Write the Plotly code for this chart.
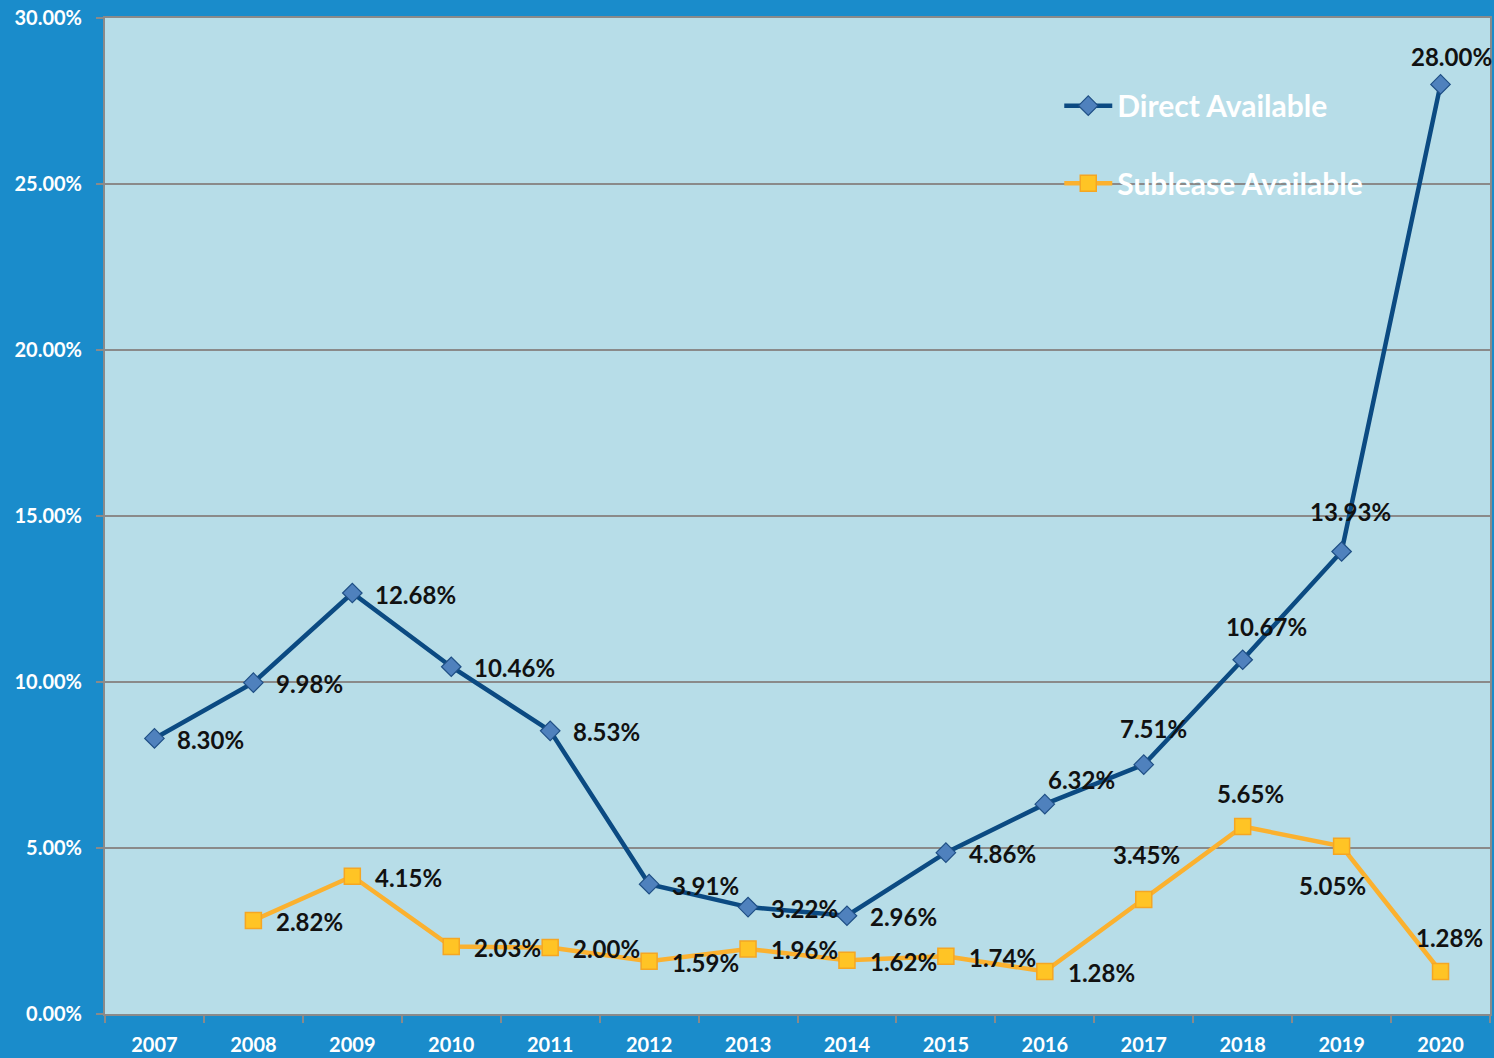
import plotly.graph_objects as go

years = ["2007", "2008", "2009", "2010", "2011", "2012", "2013",
         "2014", "2015", "2016", "2017", "2018", "2019", "2020"]
direct = [8.30, 9.98, 12.68, 10.46, 8.53, 3.91, 3.22, 2.96, 4.86, 6.32, 7.51, 10.67, 13.93, 28.00]
sublease = [None, 2.82, 4.15, 2.03, 2.00, 1.59, 1.96, 1.62, 1.74, 1.28, 3.45, 5.65, 5.05, 1.28]
y_ticks = [0, 5, 10, 15, 20, 25, 30]

# label placement (anchor, x shift px, y shift px) per point
direct_lbl = [("left", 21, -1)] * 9 + [("center", 37, 25), ("center", 10, 36), ("center", 24, 33),
                                       ("center", 9, 40), ("center", 11, 28)]
sub_lbl = [("left", 21, -1)] * 10 + [("center", 3, 45), ("center", 8, 33),
                                     ("center", -9, -39), ("center", 9, 34)]

FONT = "Lato"
LBL_FONT = dict(family=FONT, size=24, color="#111111", weight="bold")

def fmt(v):
    return f"{v:.2f}%"

fig = go.Figure()
fig.add_trace(go.Scatter(
    x=years, y=direct, name="Direct Available", mode="lines+markers",
    line=dict(color="#0b4a82", width=4.5),
    marker=dict(symbol="diamond", size=15, color="#4f81bd", line=dict(color="#1f4f85", width=1.2)),
    cliponaxis=False, legend="legend",
))
fig.add_trace(go.Scatter(
    x=years, y=sublease, name="Sublease Available", mode="lines+markers",
    line=dict(color="#fbb12f", width=4.5),
    marker=dict(symbol="square", size=16, color="#ffc425", line=dict(color="#f5a623", width=1.5)),
    cliponaxis=False, legend="legend2",
))

for series, lbls in ((direct, direct_lbl), (sublease, sub_lbl)):
    for i, (v, (anc, dx, dy)) in enumerate(zip(series, lbls)):
        if v is None:
            continue
        fig.add_annotation(x=i, y=v, xref="x", yref="y", text=fmt(v), showarrow=False,
                           xanchor=anc, yanchor="middle", xshift=dx, yshift=dy,
                           font=LBL_FONT)

legend_common = dict(
    bgcolor="rgba(0,0,0,0)", borderwidth=0, itemwidth=48,
    font=dict(family=FONT, size=30, color="white", weight="bold"),
    xanchor="left", yanchor="middle",
)

fig.update_layout(
    width=1494, height=1058,
    margin=dict(l=105, r=2, t=18, b=43),
    paper_bgcolor="#1a8ccb",
    plot_bgcolor="#b7dde8",
    showlegend=True,
    legend=dict(x=0.689, y=0.912, **legend_common),
    legend2=dict(x=0.689, y=0.834, **legend_common),
    xaxis=dict(
        type="category", range=[-0.5, 13.5], tickson="boundaries",
        showline=True, linecolor="#8a8a8a", linewidth=2, mirror=True,
        ticks="outside", ticklen=7, tickcolor="#8a8a8a", tickwidth=2,
        showgrid=False, ticklabelstandoff=12,
        tickfont=dict(family=FONT, size=20, color="white", weight="bold"),
    ),
    yaxis=dict(
        range=[0, 30], tickvals=y_ticks, ticktext=[f"{v:.2f}%" for v in y_ticks],
        showline=True, linecolor="#8a8a8a", linewidth=2, mirror=True,
        ticks="outside", ticklen=7, tickcolor="#8a8a8a", tickwidth=2,
        showgrid=True, gridcolor="#8a8a8a", gridwidth=1.5, zeroline=False,
        ticklabelstandoff=10,
        tickfont=dict(family=FONT, size=20, color="white", weight="bold"),
    ),
)

fig.write_html("out.html", config={"displayModeBar": False},
               post_script="document.body.style.margin='0';document.body.style.overflow='hidden';")
